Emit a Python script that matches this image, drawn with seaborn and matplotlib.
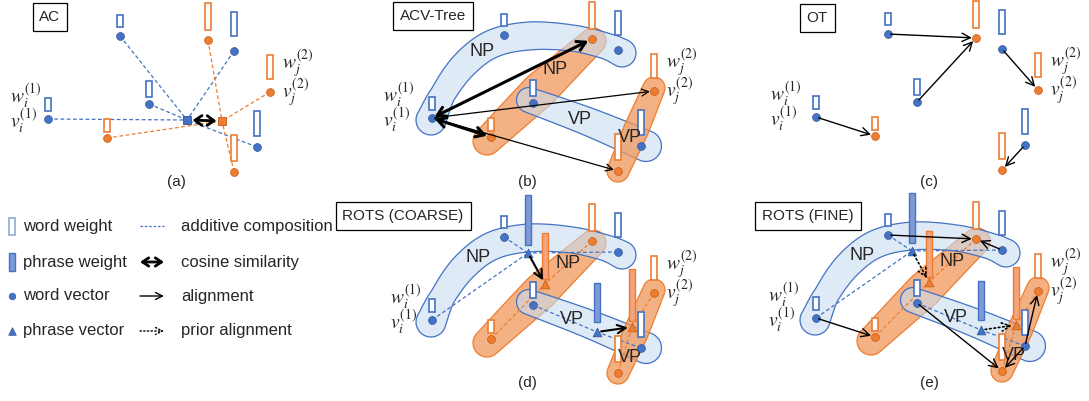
import numpy as np
import matplotlib
matplotlib.use("Agg")
import matplotlib.pyplot as plt
import seaborn as sns

# ---- sentence 1 (blue) words, pixel layout relative to panel ----
s1_x = [48, 120, 149, 234, 257]
s1_y = [119, 36, 104, 51, 147]
s1_weight = [13, 12, 16, 24, 25]
s1_gap = [8, 9, 7, 15, 11]

# ---- sentence 2 (orange) words ----
s2_x = [107, 208, 270, 234]
s2_y = [138, 40, 92, 172]
s2_weight = [13, 27, 24, 26]
s2_gap = [6, 10, 13, 11]

# phrases: NP, VP
np1_words = [0, 1, 3]
vp1_words = [2, 4]
np2_words = [0, 1]
vp2_words = [2, 3]
ph1_x = [144, 213]
ph1_y = [52, 131]
ph1_weight = [50, 39]
ph1_gap = [8, 10]
ph2_x = [161, 248]
ph2_y = [83, 126]
ph2_weight = [46, 52]
ph2_gap = [5, 6]

# additive composition (panel a)
comp_x = [187, 222]
comp_y = [120, 121]

# alignments (sentence-1 word -> sentence-2 word)
acv_strong = [(0, 0), (0, 1)]
acv_weak = [(0, 2), (0, 3)]
ot_pairs = [(0, 0), (1, 1), (2, 1), (3, 2), (4, 3)]
fine_pairs = [(0, 0), (1, 1), (3, 1), (2, 3), (4, 2), (4, 3)]

# panels
panels = ['a', 'b', 'c', 'd', 'e']
panel_dx = [0, 384, 768, 384, 768]
panel_dy = [0, -1, -2, 201, 199]
titles = ['AC', 'ACV-Tree', 'OT', 'ROTS (COARSE)', 'ROTS (FINE)']
title_x = [50, 49, 49, 19, 40]
title_y = [17, 17, 20, 15, 17]
caption_x = [176, 143, 161, 143, 161]
caption_y = [182, 183, 184, 182, 184]
left_label_x = [10, -1, 2, 6, 0]

# phrase blobs (spines + widths)
blue_np_spine = [(47, 121), (59, 95), (80, 66), (108, 45), (145, 37), (188, 39), (222, 47), (238, 54)]
blue_np_width = [30, 25, 27, 28, 28, 26, 26, 28]
orange_np_spine = [(103, 142), (156, 91), (209, 42)]
orange_np_width = [28, 36, 26]
blue_vp_spine = [(145, 101), (205, 123), (262, 147)]
blue_vp_width = [25, 28, 31]
orange_vp_spine = [(234, 172), (252, 131), (270, 89)]
orange_vp_width = [22, 25, 22]
label_pos_b = [(98, 53), (171, 71), (196, 121), (246, 138)]
label_pos_de = [(94, 57), (184, 63), (188, 118), (246, 156)]

legend_left = ['word weight', 'phrase weight', 'word vector', 'phrase vector']
legend_right = ['additive composition', 'cosine similarity', 'alignment', 'prior alignment']
legend_y = [226, 262, 296, 331]

BLUE = '#4472C4'
ORANGE = '#ED7D31'

sns.set_style('white')
plt.rcParams['font.family'] = ['Liberation Sans', 'DejaVu Sans']
plt.rcParams['mathtext.fontset'] = 'stix'

fig = plt.figure(figsize=(10.89, 4.01), dpi=100)
ax = fig.add_axes([0, 0, 1, 1])
ax.set_xlim(0, 1089)
ax.set_ylim(401, 0)
ax.axis('off')


def catmull(pts, n=20):
    P = np.vstack([pts[0], pts, pts[-1]])
    out = []
    t = np.linspace(0, 1, n, endpoint=False)[:, None]
    for i in range(1, len(P) - 2):
        p0, p1, p2, p3 = P[i - 1], P[i], P[i + 1], P[i + 2]
        out.append(0.5 * (2 * p1 + (-p0 + p2) * t + (2 * p0 - 5 * p1 + 4 * p2 - p3) * t ** 2
                          + (-p0 + 3 * p1 - 3 * p2 + p3) * t ** 3))
    out.append(P[-2][None])
    return np.vstack(out)


def band(spine, widths, dx, dy):
    spine = np.asarray(spine, float) + [dx, dy]
    c = catmull(spine)
    seg = np.r_[0, np.cumsum(np.hypot(*np.diff(spine, axis=0).T))]
    cs = np.r_[0, np.cumsum(np.hypot(*np.diff(c, axis=0).T))]
    w = np.interp(cs / cs[-1], seg / seg[-1], widths) / 2
    tg = np.gradient(c, axis=0)
    tg /= np.linalg.norm(tg, axis=1)[:, None]
    nrm = np.c_[-tg[:, 1], tg[:, 0]]
    left = c + nrm * w[:, None]
    right = c - nrm * w[:, None]
    a1 = np.arctan2(tg[-1, 1], tg[-1, 0])
    a0 = np.arctan2(tg[0, 1], tg[0, 0])
    ang = np.linspace(a1 + np.pi / 2, a1 - np.pi / 2, 20)
    cap1 = c[-1] + w[-1] * np.c_[np.cos(ang), np.sin(ang)]
    ang = np.linspace(a0 - np.pi / 2, a0 - 3 * np.pi / 2, 20)
    cap0 = c[0] + w[0] * np.c_[np.cos(ang), np.sin(ang)]
    return np.vstack([left, cap1, right[::-1], cap0])


def blob(spine, widths, dx, dy, fc, ec, alpha, z):
    poly = plt.Polygon(band(spine, widths, dx, dy), closed=True, fc=fc, ec='none', alpha=alpha, zorder=z)
    ax.add_patch(poly)
    edge = plt.Polygon(band(spine, widths, dx, dy), closed=True, fill=False, ec=ec, lw=0.9, zorder=z)
    ax.add_patch(edge)


def arrow(p, q, style='->', lw=1.0, ls='-', sa=3, sb=3, hl=0.6, hw=0.3):
    ax.annotate('', xy=q, xytext=p, zorder=7,
                arrowprops=dict(arrowstyle=f'{style},head_length={hl},head_width={hw}',
                                lw=lw, color='black', linestyle=ls, shrinkA=sa, shrinkB=sb))


def dashed(p, q, color):
    ax.plot([p[0], q[0]], [p[1], q[1]], color=color, lw=0.9, ls=(0, (3, 2)), zorder=3)


def weights(x, y, h, gap, color, filled, width=6.5):
    yb = np.asarray(y) - np.asarray(gap)
    if filled:
        ax.bar(x, -np.asarray(h), bottom=yb, width=width, color=filled, edgecolor=color, lw=1.0, zorder=5)
    else:
        ax.bar(x, -np.asarray(h), bottom=yb, width=width, color='white', edgecolor=color, lw=1.2, zorder=5)


for k, key in enumerate(panels):
    dx, dy = panel_dx[k], panel_dy[k]
    x1 = np.array(s1_x) + dx
    y1 = np.array(s1_y) + dy
    x2 = np.array(s2_x) + dx
    y2 = np.array(s2_y) + dy

    # title box and caption
    ax.text(title_x[k] + dx, title_y[k] + dy, titles[k], ha='center', va='center', fontsize=11,
            bbox=dict(boxstyle='square,pad=0.45', fc='white', ec='black', lw=0.9), zorder=8)
    ax.text(caption_x[k] + dx, caption_y[k] + dy, f'({key})', ha='center', va='center', fontsize=11)

    # math labels (weight above vector)
    lx = left_label_x[k] + dx
    ax.text(lx, 109 + dy, '$w_i^{(1)}$\n$v_i^{(1)}$', fontsize=14, ha='left', va='center',
            linespacing=0.84, zorder=8)
    ax.text(282 + dx, 78 + dy, '$w_j^{(2)}$\n$v_j^{(2)}$', fontsize=14, ha='left', va='center',
            linespacing=0.84, zorder=8)

    if key in ('b', 'd', 'e'):
        blob(orange_np_spine, orange_np_width, dx, dy, '#F4B183', ORANGE, 1.0, 1)
        blob(blue_np_spine, blue_np_width, dx, dy, '#C8DCF0', BLUE, 0.6, 1.2)
        blob(blue_vp_spine, blue_vp_width, dx, dy, '#C8DCF0', BLUE, 0.6, 1.4)
        blob(orange_vp_spine, orange_vp_width, dx, dy, '#F0975A', ORANGE, 0.75, 1.6)
        pos = label_pos_b if key == 'b' else label_pos_de
        for (px, py), lab in zip(pos, ['NP', 'NP', 'VP', 'VP']):
            ax.text(px + dx, py + dy, lab, fontsize=13, ha='center', va='center', zorder=6)

    if key == 'a':
        for i in range(len(x1)):
            dashed((x1[i], y1[i]), (comp_x[0] + dx, comp_y[0] + dy), BLUE)
        for i in range(len(x2)):
            dashed((x2[i], y2[i]), (comp_x[1] + dx, comp_y[1] + dy), ORANGE)
        sns.scatterplot(x=[comp_x[0] + dx], y=[comp_y[0] + dy], marker='s', s=30, color=BLUE,
                        edgecolor='#2F5597', linewidth=0.6, ax=ax, legend=False, zorder=6)
        sns.scatterplot(x=[comp_x[1] + dx], y=[comp_y[1] + dy], marker='s', s=30, color=ORANGE,
                        edgecolor='#C55A11', linewidth=0.6, ax=ax, legend=False, zorder=6)
        arrow((comp_x[0] + dx, comp_y[0] + dy), (comp_x[1] + dx, comp_y[1] + dy), style='<->',
              lw=2.0, sa=4, sb=4, hl=0.5, hw=0.35)

    if key == 'b':
        for i, j in acv_weak:
            arrow((x1[i], y1[i]), (x2[j], y2[j]), lw=0.9, sa=2, sb=3, hl=0.5, hw=0.25)
        for i, j in acv_strong:
            arrow((x1[i], y1[i]), (x2[j], y2[j]), style='<->', lw=2.2, sa=2, sb=3, hl=0.6, hw=0.35)

    if key == 'c':
        for i, j in ot_pairs:
            arrow((x1[i], y1[i]), (x2[j], y2[j]), lw=1.0, sa=2, sb=3)

    if key in ('d', 'e'):
        px1 = np.array(ph1_x) + dx
        py1 = np.array(ph1_y) + dy
        px2 = np.array(ph2_x) + dx
        py2 = np.array(ph2_y) + dy
        for p, words in enumerate([np1_words, vp1_words]):
            for i in words:
                dashed((x1[i], y1[i]), (px1[p], py1[p]), BLUE)
        for p, words in enumerate([np2_words, vp2_words]):
            for j in words:
                dashed((x2[j], y2[j]), (px2[p], py2[p]), ORANGE)
        weights(px1, py1, ph1_weight, ph1_gap, '#4472C4', '#7F9BD6')
        weights(px2, py2, ph2_weight, ph2_gap, ORANGE, '#F4A47C')
        sns.scatterplot(x=px1, y=py1, marker='^', s=40, color=BLUE, edgecolor='#2F5597',
                        linewidth=0.5, ax=ax, legend=False, zorder=6)
        sns.scatterplot(x=px2, y=py2, marker='^', s=40, color=ORANGE, edgecolor='#C55A11',
                        linewidth=0.5, ax=ax, legend=False, zorder=6)
        ls = '-' if key == 'd' else ':'
        for p in range(2):
            arrow((px1[p], py1[p]), (px2[p], py2[p]), lw=1.5 if key == 'd' else 1.2, ls=ls,
                  sa=3, sb=3)
        if key == 'e':
            for i, j in fine_pairs:
                arrow((x1[i], y1[i]), (x2[j], y2[j]), lw=1.0, sa=2, sb=3)

    # word weights and word vectors
    weights(x1, y1, s1_weight, s1_gap, BLUE, None)
    weights(x2, y2, s2_weight, s2_gap, ORANGE, None)
    sns.scatterplot(x=x1, y=y1, s=32, color=BLUE, edgecolor='#2F5597', linewidth=0.5,
                    ax=ax, legend=False, zorder=6)
    sns.scatterplot(x=x2, y=y2, s=32, color=ORANGE, edgecolor='#C55A11', linewidth=0.5,
                    ax=ax, legend=False, zorder=6)

# ---- legend ----
ax.bar([12], [-17], bottom=[235], width=6, color='white', edgecolor='#8FAADC', lw=1.2)
ax.bar([12], [-18], bottom=[271], width=6, color='#7F9BD6', edgecolor=BLUE, lw=1.0)
sns.scatterplot(x=[12], y=[296], s=22, color=BLUE, edgecolor='#2F5597', linewidth=0.5, ax=ax, legend=False)
sns.scatterplot(x=[12], y=[331], marker='^', s=30, color=BLUE, edgecolor='#2F5597', linewidth=0.5,
                ax=ax, legend=False)
for y, lab in zip(legend_y, legend_left):
    ax.text(23, y, lab, fontsize=12, ha='left', va='center')
for y, lab in zip(legend_y, legend_right):
    ax.text(181, y, lab, fontsize=12, ha='left', va='center')
ax.plot([140, 164], [legend_y[0], legend_y[0]], color=BLUE, lw=0.9, ls=(0, (2, 1.5)))
arrow((140, legend_y[1]), (164, legend_y[1]), style='<->', lw=2.0, sa=0, sb=0, hl=0.45, hw=0.3)
arrow((140, legend_y[2]), (164, legend_y[2]), lw=1.0, sa=0, sb=0, hl=0.5, hw=0.25)
arrow((140, legend_y[3]), (164, legend_y[3]), lw=1.0, ls=':', sa=0, sb=0, hl=0.5, hw=0.25)

fig.savefig('out.png', dpi=100)
